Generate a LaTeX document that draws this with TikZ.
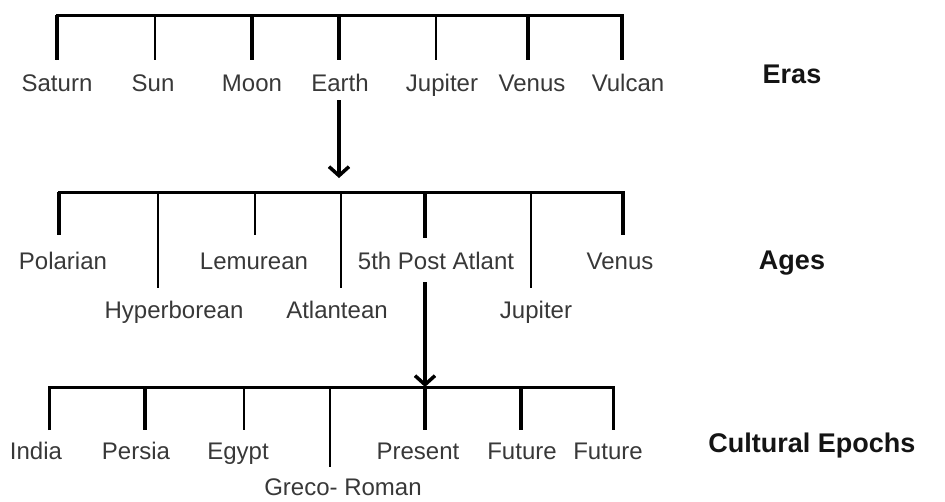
\documentclass[tikz,border=0pt]{standalone}
\usepackage{fontspec}
\setmainfont{Liberation Sans}
\usetikzlibrary{arrows.meta}
\begin{document}
\begin{tikzpicture}[x=1pt,y=-1pt,
  lbl/.style={font=\fontsize{24}{24}\selectfont, text=black!78, anchor=base, inner sep=0pt},
  ttl/.style={font=\fontsize{27}{27}\selectfont\bfseries, text=black!92, anchor=base, inner sep=0pt},
  barline/.style={line width=3pt, line join=miter, line cap=butt},
  thickdrop/.style={line width=4pt},
  thindrop/.style={line width=2.6pt},
  arr/.style={line width=3.5pt, -{Straight Barb[length=9pt,width=20pt,line width=3.5pt]}}]
\useasboundingbox (0,0) rectangle (945,501);

% ---------- Eras ----------
\coordinate (b1l) at (57,15);
\coordinate (b1r) at (622,15);
\draw[barline] (57,60) -- (b1l) -- (b1r) -- (622,60);
\foreach \x in {57,252,339,528,622} \draw[thickdrop] (\x,15) -- (\x,60);
\foreach \x in {155,436} \draw[thindrop] (\x,15) -- (\x,60);

\node[lbl] (saturn) at (57,91) {Saturn};
\node[lbl] (sun) at (153,91) {Sun};
\node[lbl] (moon) at (252,91) {Moon};
\node[lbl] (earth) at (340,91) {Earth};
\node[lbl] (jupiter1) at (442,91) {Jupiter};
\node[lbl] (venus1) at (532,91) {Venus};
\node[lbl] (vulcan) at (628,91) {Vulcan};
\node[ttl] (eras) at (792,83) {Eras};

\coordinate (a1s) at (339,100);
\coordinate (a1e) at (339,178);
\draw[arr] (a1s) -- (a1e);

% ---------- Ages ----------
\draw[barline] (59,235) -- (59,192) -- (623,192) -- (623,235);
\foreach \x/\y in {59/235,425/238,623/235} \draw[thickdrop] (\x,192) -- (\x,\y);
\foreach \x/\y in {158/288,255/235,341/288,531/288} \draw[thindrop] (\x,192) -- (\x,\y);

\node[lbl] (polarian) at (63,269) {Polarian};
\node[lbl] (lemurean) at (254,269) {Lemurean};
\node[lbl] (postatlant) at (436,269) {5th Post Atlant};
\node[lbl] (venus2) at (620,269) {Venus};
\node[lbl] (hyperborean) at (174,318) {Hyperborean};
\node[lbl] (atlantean) at (337,318) {Atlantean};
\node[lbl] (jupiter2) at (536,318) {Jupiter};
\node[ttl] (ages) at (792,269) {Ages};

\coordinate (a2s) at (425,282);
\coordinate (a2e) at (425,387);
\draw[arr] (a2s) -- (a2e);

% ---------- Cultural Epochs ----------
\draw[barline] (49,430) -- (49,387) -- (613,387) -- (613,430);
\foreach \x/\y in {145/430,425/430,521/430} \draw[thickdrop] (\x,387) -- (\x,\y);
\foreach \x/\y in {49/430,244/430,330/467,613/430} \draw[thindrop] (\x,387) -- (\x,\y);

\node[lbl] (india) at (36,459) {India};
\node[lbl] (persia) at (136,459) {Persia};
\node[lbl] (egypt) at (238,459) {Egypt};
\node[lbl] (present) at (418,459) {Present};
\node[lbl] (future1) at (522,459) {Future};
\node[lbl] (future2) at (608,459) {Future};
\node[lbl] (greco) at (343,495) {Greco- Roman};
\node[ttl] (epochs) at (812,452) {Cultural Epochs};
\end{tikzpicture}
\end{document}
